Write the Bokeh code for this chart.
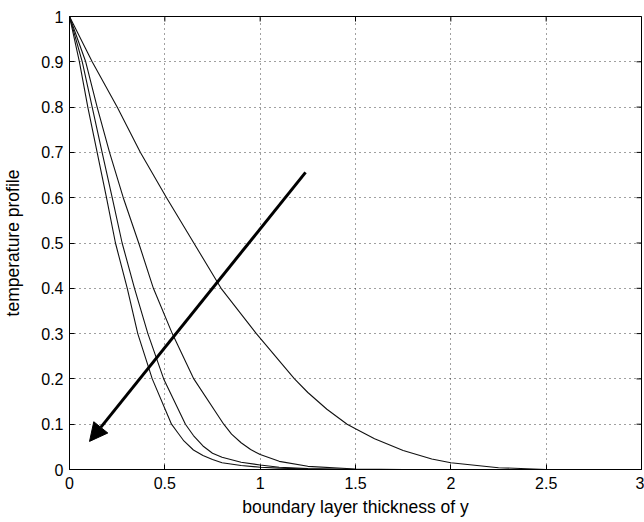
import math
from bokeh.plotting import figure
from bokeh.models import Range1d, Arrow, NormalHead, FixedTicker
from bokeh.embed import file_html
from bokeh.resources import INLINE

# ---- data ----
x_curve1 = [0, 0.052, 0.096, 0.145, 0.194, 0.241, 0.303, 0.358, 0.434, 0.535, 0.57, 0.6, 0.65, 0.7, 0.75, 0.8, 0.9, 1.0, 1.1, 1.25, 1.5, 3.0]
y_curve1 = [1, 0.9, 0.8, 0.7, 0.6, 0.5, 0.4, 0.3, 0.2, 0.1, 0.08, 0.063, 0.043, 0.031, 0.022, 0.015, 0.009, 0.005, 0.003, 0.001, 0, 0]

x_curve2 = [0, 0.067, 0.119, 0.171, 0.224, 0.276, 0.341, 0.411, 0.494, 0.608, 0.65, 0.7, 0.75, 0.8, 0.9, 1.0, 1.1, 1.25, 1.5, 3.0]
y_curve2 = [1, 0.9, 0.8, 0.7, 0.6, 0.5, 0.4, 0.3, 0.2, 0.1, 0.075, 0.052, 0.036, 0.027, 0.016, 0.01, 0.005, 0.002, 0, 0]

x_curve3 = [0, 0.085, 0.145, 0.21, 0.282, 0.363, 0.44, 0.539, 0.652, 0.809, 0.85, 0.9, 0.95, 1.0, 1.1, 1.25, 1.5, 1.75, 3.0]
y_curve3 = [1, 0.9, 0.8, 0.7, 0.6, 0.5, 0.4, 0.3, 0.2, 0.1, 0.078, 0.059, 0.044, 0.033, 0.018, 0.007, 0.001, 0, 0]

x_curve4 = [0, 0.119, 0.25, 0.372, 0.509, 0.652, 0.795, 0.98, 1.18, 1.25, 1.35, 1.456, 1.5, 1.6, 1.75, 1.9, 2.0, 2.25, 2.5, 3.0]
y_curve4 = [1, 0.9, 0.8, 0.7, 0.6, 0.5, 0.4, 0.3, 0.2, 0.17, 0.133, 0.1, 0.09, 0.068, 0.042, 0.023, 0.015, 0.004, 0, 0]

x_ticks = [0, 0.5, 1, 1.5, 2, 2.5, 3]
x_tick_labels = ["0", "0.5", "1", "1.5", "2", "2.5", "3"]
y_ticks = [0, 0.1, 0.2, 0.3, 0.4, 0.5, 0.6, 0.7, 0.8, 0.9, 1]
y_tick_labels = ["0", "0.1", "0.2", "0.3", "0.4", "0.5", "0.6", "0.7", "0.8", "0.9", "1"]

arrow_start = (1.238, 0.656)
arrow_end = (0.105, 0.062)

x_label = "boundary layer thickness of y"
y_label = "temperature profile"

FONT = "Liberation Sans"
X_MIN, X_MAX, Y_MIN, Y_MAX = 0, 3, 0, 1

p = figure(width=644, height=522, output_backend="svg", toolbar_location=None,
           x_range=Range1d(X_MIN, X_MAX), y_range=Range1d(Y_MIN, Y_MAX),
           min_border_left=69, min_border_right=3, min_border_top=16, min_border_bottom=53,
           background_fill_color="white", border_fill_color="white")

p.outline_line_color = "black"
p.outline_line_width = 1
p.outline_line_alpha = 1

for ax in (p.xaxis[0], p.yaxis[0]):
    ax.major_tick_in = 5
    ax.major_tick_out = 0
    ax.minor_tick_in = 0
    ax.minor_tick_out = 0
    ax.axis_line_color = "black"
    ax.major_tick_line_color = "black"
    ax.major_label_text_font = FONT
    ax.major_label_text_font_size = "16px"
    ax.major_label_text_color = "black"
    ax.axis_label_text_font = FONT
    ax.axis_label_text_font_size = "17.5px"
    ax.axis_label_text_font_style = "normal"
    ax.axis_label_text_color = "black"

p.xaxis[0].ticker = FixedTicker(ticks=x_ticks)
p.xaxis[0].major_label_overrides = {t: l for t, l in zip(x_ticks, x_tick_labels)}
p.xaxis[0].major_label_standoff = 7
p.xaxis[0].axis_label = x_label
p.xaxis[0].axis_label_standoff = 5

p.yaxis[0].ticker = FixedTicker(ticks=y_ticks)
p.yaxis[0].major_label_overrides = {t: l for t, l in zip(y_ticks, y_tick_labels)}
p.yaxis[0].major_label_standoff = 6
p.yaxis[0].axis_label = y_label
p.yaxis[0].axis_label_standoff = 15

for g in (p.xgrid[0], p.ygrid[0]):
    g.grid_line_color = "black"
    g.grid_line_dash = "1 4"
    g.grid_line_alpha = 0.75
    g.grid_line_width = 1
p.xgrid[0].ticker = FixedTicker(ticks=x_ticks)
p.ygrid[0].ticker = FixedTicker(ticks=y_ticks)

# inward tick marks on the top and right box edges (half of each dash is clipped by the frame)
p.scatter(x_ticks, [Y_MAX] * len(x_ticks), marker="dash", angle=math.pi / 2, size=10,
          line_color="black", line_width=1)
p.scatter([X_MAX] * len(y_ticks), y_ticks, marker="dash", size=10,
          line_color="black", line_width=1)

for xs, ys in ((x_curve1, y_curve1), (x_curve2, y_curve2), (x_curve3, y_curve3), (x_curve4, y_curve4)):
    p.line(xs, ys, line_color="#111111", line_width=1.1)

p.add_layout(Arrow(end=NormalHead(size=18, fill_color="black", line_color="black"),
                   x_start=arrow_start[0], y_start=arrow_start[1],
                   x_end=arrow_end[0], y_end=arrow_end[1],
                   line_width=3, line_color="black"))

open("out.html", "w").write(file_html(p, INLINE))
